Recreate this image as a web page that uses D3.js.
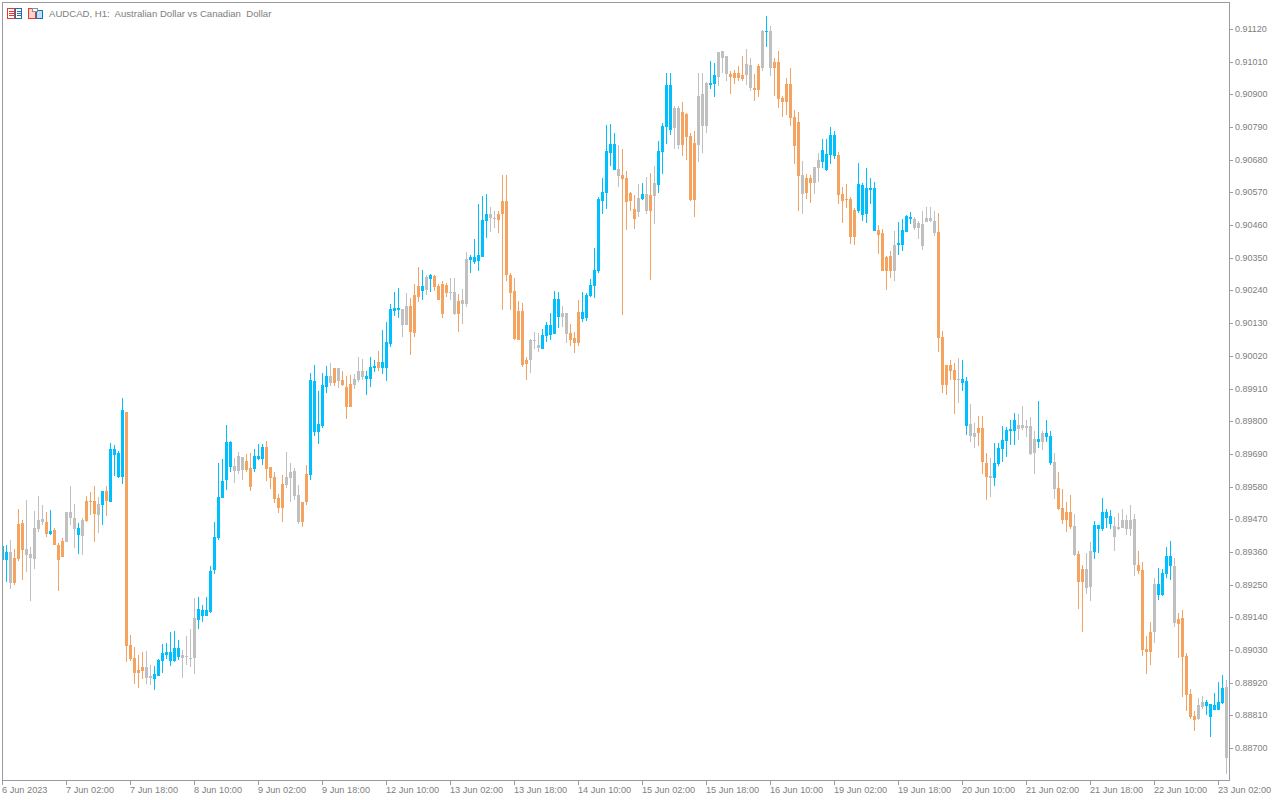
<!DOCTYPE html>
<html>
<head>
<meta charset="utf-8">
<title>AUDCAD H1</title>
<script src="https://cdn.jsdelivr.net/npm/d3@7/dist/d3.min.js"></script>
<style>
  html, body { margin: 0; padding: 0; background: #fff; overflow: hidden; }
  svg { display: block; }
  text { font-family: "Liberation Sans", Arial, sans-serif; font-size: 9px; fill: #808080; }
</style>
</head>
<body>
<svg id="chart" width="1280" height="800"></svg>
<script>
// Chart title and axis labels
const title = "AUDCAD, H1:  Australian Dollar vs Canadian  Dollar";
const priceTicks = [91120, 91010, 90900, 90790, 90680, 90570, 90460, 90350, 90240, 90130, 90020, 89910,
  89800, 89690, 89580, 89470, 89360, 89250, 89140, 89030, 88920, 88810, 88700];
const timeLabels = ["6 Jun 2023", "7 Jun 02:00", "7 Jun 18:00", "8 Jun 10:00", "9 Jun 02:00", "9 Jun 18:00",
  "12 Jun 10:00", "13 Jun 02:00", "13 Jun 18:00", "14 Jun 10:00", "15 Jun 02:00", "15 Jun 18:00",
  "16 Jun 10:00", "19 Jun 02:00", "19 Jun 18:00", "20 Jun 10:00", "21 Jun 02:00", "21 Jun 18:00",
  "22 Jun 10:00", "23 Jun 02:00"];

// Candle colour class, ten candles per group: b = blue, o = orange, g = gray
const candleClass = [
  "bbgooogggg", "gobooogggb", "gooogbobbb", "boooooggbb", "bbbbbggggb", "bbbbbbbbgg", "goobbboooo",
  "oggggoobbb", "bbgogooogg", "gbbbobbbbb", "ggooobgboo", "ooggoggbbb", "bbggoooooo", "oogggbbbbb",
  "ggooobbbbb", "bbbbgoooog", "bgogbbbbgg", "oooogggbbg", "ggooooggoo", "gbgooooooo", "googgbbbbo",
  "oooobbbbbo", "ooogbbbbgg", "ggggooooog", "bbggooogbb", "bbbbgggggb", "gbbgoooogo", "oggbbbbbgg",
  "ggggoooogb", "bbbgooooog", "gbbbbbg"
].join("");

// Prices in points (1 point = 0.00001), one value per hourly candle
const bodyTop = [
  89380,89360,89360,89340,89454,89458,89370,89353,89441,89468,
  89471,89461,89431,89434,89384,89397,89495,89495,89474,89441,
  89468,89532,89532,89532,89522,89565,89565,89707,89707,89693,
  89838,89831,89047,89003,88963,88973,88973,88943,88949,88997,
  89020,89023,89023,89037,89037,89013,89010,89003,89138,89168,
  89165,89165,89296,89411,89545,89599,89730,89730,89650,89683,
  89680,89666,89643,89683,89683,89714,89714,89646,89613,89542,
  89589,89613,89629,89633,89552,89528,89623,89939,89936,89791,
  89922,89953,89953,89979,89979,89939,89916,89926,89942,89969,
  89969,89953,89983,89986,90000,90000,90067,90178,90181,90181,
  90178,90188,90188,90225,90256,90256,90286,90293,90289,90256,
  90262,90259,90235,90235,90205,90208,90346,90353,90353,90360,
  90478,90498,90498,90484,90498,90542,90542,90293,90239,90171,
  90171,90006,90074,90074,90057,90091,90124,90124,90212,90212,
  90165,90165,90097,90081,90168,90168,90225,90259,90309,90548,
  90572,90709,90733,90733,90649,90629,90618,90568,90514,90551,
  90565,90565,90561,90602,90709,90794,90932,90932,90854,90854,
  90841,90834,90760,90736,90895,90901,90938,90938,90965,91043,
  91046,91029,90969,90972,90972,90965,91002,90999,90921,90995,
  91114,91114,91114,91009,91009,90888,90935,90935,90824,90807,
  90629,90619,90619,90656,90679,90713,90700,90764,90764,90696,
  90565,90548,90548,90511,90599,90595,90585,90585,90585,90444,
  90434,90353,90356,90393,90400,90444,90491,90488,90481,90467,
  90464,90484,90484,90474,90437,90084,89989,89989,89972,89942,
  89943,89936,89791,89761,89778,89778,89660,89616,89660,89710,
  89737,89771,89774,89805,89788,89788,89784,89784,89741,89741,
  89761,89761,89751,89663,89576,89508,89495,89495,89448,89354,
  89303,89303,89364,89451,89451,89495,89495,89482,89448,89445,
  89468,89468,89468,89471,89317,89300,89034,89091,89253,89253,
  89290,89347,89347,89313,89135,89138,89010,88882,88808,88845,
  88855,88855,88849,88845,88855,88903,88906
];
const bodyBottom = [
  89333,89333,89256,89256,89336,89367,89350,89340,89336,89437,
  89461,89421,89421,89384,89333,89343,89394,89474,89437,89417,
  89414,89464,89528,89488,89485,89518,89532,89528,89687,89613,
  89613,89044,89000,88953,88953,88959,88936,88936,88933,88943,
  88993,89013,88993,88993,89007,89003,89007,89000,89003,89131,
  89145,89145,89158,89300,89407,89542,89602,89646,89633,89633,
  89636,89636,89579,89640,89673,89673,89640,89609,89539,89508,
  89508,89586,89609,89549,89461,89461,89528,89619,89764,89764,
  89784,89916,89929,89929,89936,89922,89848,89848,89922,89939,
  89949,89942,89942,89979,89979,89979,89979,90060,90171,90175,
  90124,90124,90101,90097,90219,90239,90242,90279,90252,90208,
  90161,90232,90232,90161,90161,90195,90195,90343,90336,90340,
  90353,90474,90484,90481,90478,90498,90293,90232,90077,90074,
  89990,89993,90006,90070,90047,90043,90087,90091,90094,90151,
  90151,90094,90074,90064,90064,90144,90148,90222,90256,90306,
  90542,90568,90703,90645,90625,90615,90538,90541,90480,90504,
  90548,90507,90507,90558,90595,90706,90790,90780,90787,90730,
  90730,90757,90544,90544,90730,90794,90794,90932,90935,90958,
  91022,90969,90958,90955,90955,90952,90965,90921,90915,90915,
  90989,91110,90989,90989,90884,90874,90874,90820,90726,90625,
  90565,90568,90602,90602,90652,90673,90646,90696,90693,90562,
  90541,90545,90420,90420,90508,90494,90498,90578,90440,90427,
  90306,90306,90306,90306,90393,90393,90437,90481,90450,90450,
  90390,90471,90474,90434,90080,89922,89922,89969,89939,89939,
  89929,89785,89751,89747,89761,89663,89613,89609,89609,89657,
  89707,89734,89768,89768,89774,89778,89778,89690,89694,89731,
  89731,89747,89660,89572,89505,89468,89468,89445,89350,89259,
  89259,89239,89243,89360,89438,89438,89475,89455,89411,89438,
  89441,89438,89438,89317,89296,89030,89024,89024,89091,89216,
  89216,89286,89313,89121,89118,89007,88879,88805,88795,88798,
  88839,88842,88805,88829,88829,88852,88667
];
const wickHigh = [
  89390,89384,89400,89370,89505,89468,89535,89377,89498,89549,
  89518,89495,89501,89441,89390,89407,89495,89582,89522,89458,
  89474,89549,89562,89582,89545,89565,89582,89727,89720,89700,
  89878,89831,89081,89040,89013,89023,89027,88980,88976,89000,
  89050,89054,89091,89094,89064,89030,89077,89101,89205,89209,
  89182,89209,89311,89461,89660,89673,89788,89734,89677,89697,
  89680,89690,89693,89707,89724,89724,89734,89646,89629,89555,
  89619,89697,89660,89643,89586,89528,89653,89963,89990,89902,
  89963,89986,89996,89979,89979,89969,89953,89956,89959,90017,
  90010,89969,90017,90006,90037,90107,90134,90195,90235,90249,
  90178,90232,90215,90262,90320,90309,90293,90296,90293,90262,
  90272,90266,90282,90282,90229,90245,90370,90360,90414,90532,
  90558,90565,90521,90508,90508,90629,90629,90299,90282,90205,
  90198,90017,90077,90101,90097,90111,90134,90165,90239,90235,
  90188,90165,90128,90101,90208,90235,90232,90279,90383,90555,
  90619,90797,90800,90770,90730,90716,90642,90571,90561,90598,
  90602,90622,90635,90659,90743,90804,90972,90972,90861,90861,
  90874,90837,90770,90777,90972,90972,90942,91012,91006,91043,
  91046,91029,90979,90982,90995,91029,91053,91022,90969,91002,
  91117,91164,91130,91022,91046,90895,90955,90989,90847,90841,
  90676,90632,90629,90656,90703,90750,90750,90790,90777,90706,
  90588,90599,90555,90518,90669,90602,90652,90619,90605,90461,
  90447,90356,90373,90440,90471,90481,90494,90504,90488,90474,
  90508,90521,90521,90508,90501,90104,89989,90006,89996,90013,
  90006,89949,89859,89795,89818,89818,89694,89677,89727,89727,
  89784,89781,89805,89828,89825,89852,89805,89815,89768,89869,
  89768,89805,89768,89694,89630,89572,89529,89552,89488,89364,
  89317,89357,89394,89465,89451,89542,89505,89502,89478,89492,
  89505,89485,89519,89488,89364,89327,89078,89125,89273,89307,
  89303,89377,89397,89340,89155,89165,89020,88899,88825,88869,
  88876,88862,88849,88886,88923,88946,88930
];
const wickLow = [
  89325,89259,89236,89249,89330,89266,89293,89195,89303,89427,
  89451,89411,89417,89384,89229,89343,89394,89451,89374,89353,
  89350,89461,89485,89394,89424,89451,89481,89528,89616,89609,
  89589,88990,88993,88916,88902,88933,88916,88912,88896,88943,
  88953,89000,88976,88990,88997,88936,88980,88973,88949,89101,
  89124,89145,89154,89285,89401,89542,89569,89629,89592,89623,
  89602,89629,89565,89629,89670,89653,89599,89572,89525,89491,
  89461,89576,89528,89535,89454,89444,89518,89602,89751,89724,
  89778,89895,89919,89919,89912,89919,89808,89848,89909,89932,
  89939,89889,89916,89966,89969,89959,89936,90050,90155,90148,
  90084,90124,90023,90084,90202,90208,90225,90235,90239,90208,
  90148,90219,90208,90158,90101,90128,90185,90299,90330,90306,
  90353,90417,90437,90451,90434,90175,90272,90175,90074,90074,
  89983,89939,89963,90043,90033,90043,90067,90074,90094,90114,
  90118,90064,90054,90030,90054,90134,90138,90219,90215,90299,
  90498,90514,90659,90645,90588,90157,90443,90507,90447,90487,
  90544,90497,90275,90464,90568,90632,90733,90763,90716,90716,
  90693,90679,90541,90487,90672,90703,90770,90918,90891,90928,
  90972,90945,90901,90935,90945,90945,90932,90911,90878,90891,
  90979,91060,90962,90895,90854,90824,90831,90794,90666,90507,
  90498,90548,90535,90565,90605,90652,90642,90666,90683,90531,
  90467,90518,90397,90393,90501,90474,90467,90531,90440,90363,
  90306,90242,90282,90272,90360,90373,90437,90464,90444,90413,
  90376,90471,90471,90424,90033,89895,89888,89939,89824,89861,
  89902,89754,89731,89710,89717,89623,89535,89546,89583,89650,
  89663,89680,89721,89721,89737,89771,89747,89687,89623,89710,
  89704,89731,89653,89539,89502,89455,89428,89438,89347,89169,
  89091,89219,89195,89337,89357,89431,89441,89438,89364,89434,
  89441,89418,89414,89280,89286,89010,88950,88980,89054,89199,
  89212,89273,89266,89108,89004,88872,88825,88798,88758,88795,
  88832,88812,88738,88829,88829,88849,88613
];

const colors = { b: "#00bfff", o: "#f4a460", g: "#c0c0c0" };
const frameColor = "#9a9aa2";
const labelColor = "#808080";

// Plot frame in page pixels
const plot = { left: 2, top: 2, right: 1229, bottom: 780 };

const svg = d3.select("#chart").attr("shape-rendering", "crispEdges");

// One candle every 4px, prices mapped so 0.91120 sits on row 29 and 0.88700 on row 748
const xScale = d3.scaleLinear().domain([0, 306]).range([2.5, 1226.5]);
const yScale = d3.scaleLinear().domain([91120, 88700]).range([29, 748]).interpolate(d3.interpolateRound);

const candleIndex = d3.range(bodyTop.length);

// Clipping so candles stay inside the frame
svg
  .append("clipPath")
  .attr("id", "plot-clip")
  .append("rect")
  .attr("x", plot.left + 1)
  .attr("y", plot.top + 1)
  .attr("width", plot.right - plot.left - 1)
  .attr("height", plot.bottom - plot.top - 1);

const candles = svg.append("g").attr("clip-path", "url(#plot-clip)");

// Wicks
candles
  .selectAll(".wick")
  .data(candleIndex)
  .enter()
  .append("rect")
  .attr("class", "wick")
  .attr("x", (i) => xScale(i) - 0.5)
  .attr("y", (i) => yScale(wickHigh[i]))
  .attr("width", 1)
  .attr("height", (i) => Math.max(1, yScale(wickLow[i]) - yScale(wickHigh[i])))
  .attr("fill", (i) => colors[candleClass[i]]);

// Bodies
candles
  .selectAll(".body")
  .data(candleIndex)
  .enter()
  .append("rect")
  .attr("class", "body")
  .attr("x", (i) => xScale(i) - 1.5)
  .attr("y", (i) => yScale(bodyTop[i]))
  .attr("width", 3)
  .attr("height", (i) => Math.max(1, yScale(bodyBottom[i]) - yScale(bodyTop[i])))
  .attr("fill", (i) => colors[candleClass[i]]);

// Frame around the plot
svg
  .append("rect")
  .attr("x", plot.left + 0.5)
  .attr("y", plot.top + 0.5)
  .attr("width", plot.right - plot.left)
  .attr("height", plot.bottom - plot.top)
  .attr("fill", "none")
  .attr("stroke", frameColor);

// Price axis on the right
const yAxis = svg
  .append("g")
  .attr("transform", `translate(${plot.right},0)`)
  .call(
    d3
      .axisRight(yScale)
      .tickValues(priceTicks)
      .tickSize(4)
      .tickPadding(2)
      .tickFormat((d) => (d / 100000).toFixed(5))
  );
yAxis.select(".domain").remove();
yAxis.selectAll("line").attr("stroke", frameColor);
yAxis.selectAll("text").style("font-size", "9px").style("fill", labelColor).attr("font-family", null);

// Time axis along the bottom, a label every 16 candles
const xAxis = svg
  .append("g")
  .attr("transform", `translate(0,${plot.bottom})`)
  .call(
    d3
      .axisBottom(xScale)
      .tickValues(d3.range(0, bodyTop.length, 16))
      .tickSize(5)
      .tickPadding(1.5)
      .offset(0)
      .tickFormat((d) => timeLabels[d / 16])
  );
xAxis.select(".domain").remove();
xAxis.selectAll("line").attr("stroke", frameColor);
xAxis
  .selectAll("text")
  .attr("text-anchor", "start")
  .attr("x", -0.5)
  .style("font-size", "9.2px")
  .style("fill", labelColor)
  .attr("font-family", null);
svg.selectAll("g").attr("font-size", null);

// Symbol caption
svg
  .append("text")
  .attr("x", 49)
  .attr("y", 17)
  .style("white-space", "pre")
  .style("font-size", "9.6px")
  .text(title);

// Two small toolbar icons next to the caption
const icons = svg.append("g");
icons.append("rect").attr("x", 7.5).attr("y", 8.5).attr("width", 7).attr("height", 10).attr("fill", "#fff").attr("stroke", "#e8392f");
icons.append("rect").attr("x", 15.5).attr("y", 8.5).attr("width", 6).attr("height", 10).attr("fill", "#fff").attr("stroke", "#1f6fb5");
[11, 13, 15].forEach((y) => {
  icons.append("rect").attr("x", 9).attr("y", y).attr("width", 5).attr("height", 1).attr("fill", "#e8392f");
  icons.append("rect").attr("x", 17).attr("y", y).attr("width", 4).attr("height", 1).attr("fill", "#1f6fb5");
});
icons.append("rect").attr("x", 28.5).attr("y", 8.5).attr("width", 7).attr("height", 10).attr("fill", "#fbd5cc").attr("stroke", "#e8392f");
icons.append("rect").attr("x", 36.5).attr("y", 10.5).attr("width", 6).attr("height", 8).attr("fill", "#bfe0f5").attr("stroke", "#1f6fb5");
icons.append("rect").attr("x", 32.5).attr("y", 8.5).attr("width", 5).attr("height", 3).attr("fill", "#fff").attr("stroke", "#8e8e8e");
</script>
</body>
</html>
